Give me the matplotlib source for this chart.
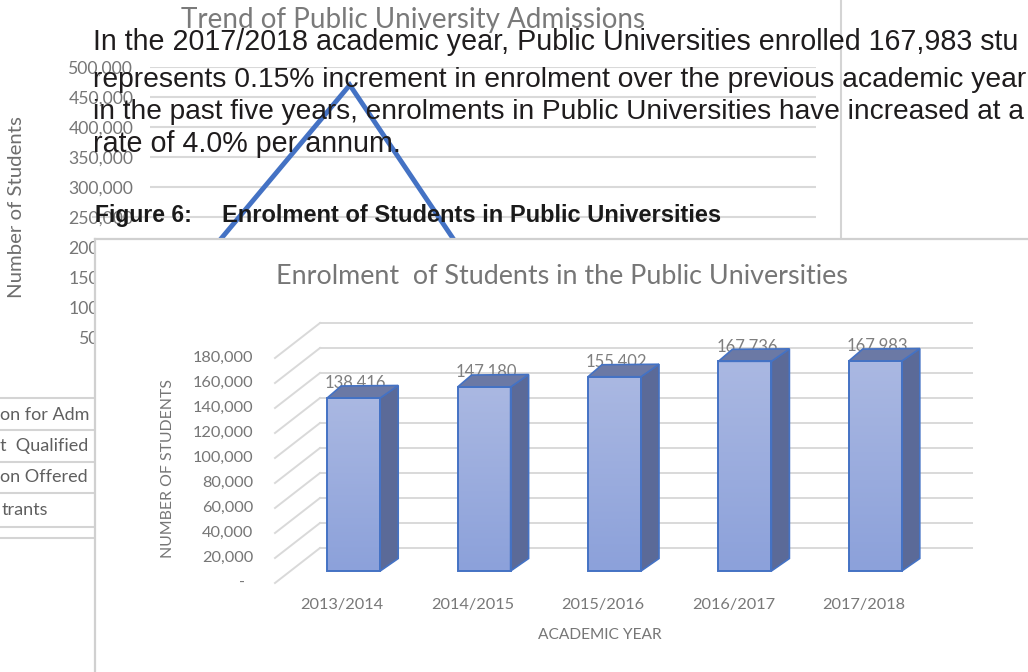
import numpy as np
import matplotlib
matplotlib.use("Agg")
import matplotlib.pyplot as plt
from matplotlib.patches import Polygon, Rectangle
from matplotlib.lines import Line2D
from matplotlib.colors import LinearSegmentedColormap

W, H, DPI = 1028, 672, 100

# ---------------- data ----------------
back_title = "Trend of Public University Admissions"
back_ylabel = "Number of Students"
back_categories = ["2013/2014", "2014/2015", "2015/2016", "2016/2017", "2017/2018"]
back_values = [205000, 470000, 140000, 150000, 160000]
back_yticks = list(range(0, 500001, 50000))
legend_rows = ["on for Adm", "t  Qualified", "on Offered", "trants"]

doc_lines = [
    "In the 2017/2018 academic year, Public Universities enrolled 167,983 stu",
    "represents 0.15% increment in enrolment over the previous academic year",
    "in the past five years, enrolments in Public Universities have increased at a",
    "rate of 4.0% per annum.",
]
doc_sizes = [20.6, 20.3, 20.15, 20.6]
fig_label = "Figure 6:"
fig_caption = "Enrolment of Students in Public Universities"

inner_title = "Enrolment  of Students in the Public Universities"
years = ["2013/2014", "2014/2015", "2015/2016", "2016/2017", "2017/2018"]
enrolment = [138416, 147180, 155402, 167736, 167983]
inner_yticks = list(range(0, 180001, 20000))
inner_ylabel = "NUMBER OF STUDENTS"
inner_xlabel = "ACADEMIC YEAR"

CAL = ["Lato", "DejaVu Sans"]
ARIAL = ["Liberation Sans", "DejaVu Sans"]

def fx(px):
    return px / W

def fy(py):
    return 1 - py / H

fig = plt.figure(figsize=(W / DPI, H / DPI), dpi=DPI)
fig.patch.set_facecolor("white")

# ---------------- background chart ----------------
axb = fig.add_axes([fx(150), fy(367), 666 / W, 300 / H], zorder=1)
axb.set_xlim(-0.5, len(back_categories) - 0.5)
axb.set_ylim(0, 500000)
axb.plot(range(len(back_values)), back_values, color="#4472c4", lw=3.5,
         solid_joinstyle="miter", zorder=3)
axb.set_yticks(back_yticks)
axb.set_yticklabels([f"{v:,}" for v in back_yticks], family=CAL, fontsize=12.7,
                    color="#767676")
axb.set_xticks([])
axb.yaxis.grid(True, color="#d9d9d9", lw=1.5)
axb.set_axisbelow(True)
axb.tick_params(axis="y", length=0, pad=12)
for s in axb.spines.values():
    s.set_visible(False)
axb.patch.set_alpha(0)

fig.text(fx(413), fy(28), back_title, family=CAL, fontsize=20, color="#7a7a7a",
         ha="center", va="baseline", zorder=1)
fig.text(fx(17), fy(207), back_ylabel, family=CAL, fontsize=14.7, color="#6e6e6e",
         ha="center", va="center", rotation=90, zorder=1)

# right border of background chart and document rule
fig.add_artist(Line2D([fx(841), fx(841)], [fy(0), fy(239)], color="#d4d4d4", lw=1.5, zorder=1))
fig.add_artist(Line2D([fx(93), fx(150)], [fy(217), fy(217)], color="#d9d9d9", lw=1.5, zorder=1))

# truncated data table rows at the left
for yy in [398, 430, 462, 493, 527, 538]:
    fig.add_artist(Line2D([fx(0), fx(94)], [fy(yy), fy(yy)], color="#d4d4d4", lw=1.5, zorder=1))
for txt, yy, xx in zip(legend_rows, [415, 446, 477, 510], [0, 0, 0, 2]):
    fig.text(fx(xx), fy(yy), txt, family=CAL, fontsize=13, color="#5f5f5f",
             ha="left", va="center", zorder=1)

# ---------------- inner chart box ----------------
axbox = fig.add_axes([fx(95), 0, (W - 95) / W + 0.02, (H - 239) / H], zorder=2)
axbox.set_facecolor("white")
axbox.set_xticks([]); axbox.set_yticks([])
for k, s in axbox.spines.items():
    if k in ("left", "top"):
        s.set_color("#d0d0d0"); s.set_linewidth(1.6)
    else:
        s.set_visible(False)

# ---------------- inner 3D bar chart ----------------
axi = fig.add_axes([fx(275), fy(583), 652 / W, 225 / H], zorder=3)
axi.set_xlim(-0.5, len(years) - 0.5)
axi.set_ylim(0, 180000)
axi.set_autoscale_on(False)
axi.axis("off")

def disp(x, y):
    return axi.transData.transform((x, y))

def to_data(X, Y):
    return axi.transData.inverted().transform((X, Y))

def shifted(x, y, dx, dy):
    X, Y = disp(x, y)
    return to_data(X + dx, Y - dy)

grid_c = "#d9d9d9"
BX, BY = 45, -35  # back-wall offset in pixels (right, down)
x0, x1 = -0.5, len(years) - 0.5
for v in inner_yticks:
    p0 = shifted(x0, v, BX, BY)
    p1 = shifted(x1, v, BX, BY)
    axi.plot([p0[0], p1[0]], [p0[1], p1[1]], color=grid_c, lw=1.4, zorder=1, clip_on=False)
    axi.plot([x0, p0[0]], [v, p0[1]], color=grid_c, lw=1.4, zorder=1, clip_on=False)
    lab = f"{v:,}" if v > 0 else "-"
    dx = -22 if v > 0 else -30
    tp = shifted(x0, v, dx, 0)
    axi.text(tp[0], tp[1], lab, family=CAL, fontsize=11.8, color="#767676",
             ha="right", va="center", clip_on=False)

cmap = LinearSegmentedColormap.from_list("bar", ["#8ca1da", "#aab8e2"])
grad = np.linspace(0, 1, 64).reshape(-1, 1)
edge = "#4472c4"
half_w = 26.5
FX, FY = 13.5, -12        # front-face offset from the front plane
LX, LY = 14, -12          # depth offset, left edge
RX, RY = 18, -12.5        # depth offset, right edge

for i, (yr, v) in enumerate(zip(years, enrolment)):
    cx, y0 = disp(i, 0)
    _, yt = disp(i, v)
    cx += FX
    y0 -= FY
    yt -= FY
    L, R = cx - half_w, cx + half_w
    dl = to_data(L, y0); dr = to_data(R, yt)
    axi.imshow(grad, cmap=cmap, origin="lower", aspect="auto",
               extent=[dl[0], dr[0], dl[1], dr[1]], zorder=5, clip_on=False,
               interpolation="bilinear")
    axi.add_patch(Rectangle((dl[0], dl[1]), dr[0] - dl[0], dr[1] - dl[1], fill=False,
                            ec=edge, lw=1.4, zorder=6, clip_on=False))
    side = [to_data(R, y0), to_data(R, yt), to_data(R + RX, yt - RY), to_data(R + RX, y0 - RY)]
    axi.add_patch(Polygon(side, closed=True, fc="#5b6a98", ec=edge, lw=1.2, zorder=5,
                          clip_on=False))
    top = [to_data(L, yt), to_data(R, yt), to_data(R + RX, yt - RY), to_data(L + LX, yt - LY)]
    axi.add_patch(Polygon(top, closed=True, fc="#6b79a5", ec=edge, lw=1.2, zorder=5,
                          clip_on=False))
    tp = to_data(cx + 2, yt + 10)
    axi.text(tp[0], tp[1], f"{v:,}", family=CAL, fontsize=12, color="#7f7f7f",
             ha="center", va="baseline", zorder=4, clip_on=False)
    cp = shifted(i, 0, 2, 22)
    axi.text(cp[0], cp[1], yr, family=CAL, fontsize=11.8, color="#787878",
             ha="center", va="center", clip_on=False)

fig.text(fx(562), fy(284), inner_title, family=CAL, fontsize=19.4, color="#767676",
         ha="center", va="baseline", zorder=4)
fig.text(fx(168), fy(469), inner_ylabel, family=CAL, fontsize=11.4, color="#767676",
         ha="center", va="center", rotation=90, zorder=4)
fig.text(fx(600), fy(635), inner_xlabel, family=CAL, fontsize=11.2, color="#767676",
         ha="center", va="center", zorder=4)

# ---------------- document text on top ----------------
for txt, base, fs in zip(doc_lines, [50, 87, 119, 152], doc_sizes):
    fig.text(fx(93), fy(base), txt, family=ARIAL, fontsize=fs, color="#1f1c1d",
             ha="left", va="baseline", zorder=10)
fig.text(fx(95), fy(222), fig_label, family=ARIAL, fontsize=16.5, weight="bold",
         color="#1a1a1a", ha="left", va="baseline", zorder=10)
fig.text(fx(222), fy(222), fig_caption, family=ARIAL, fontsize=17, weight="bold",
         color="#1a1a1a", ha="left", va="baseline", zorder=10)

fig.savefig("out.png", dpi=DPI)
